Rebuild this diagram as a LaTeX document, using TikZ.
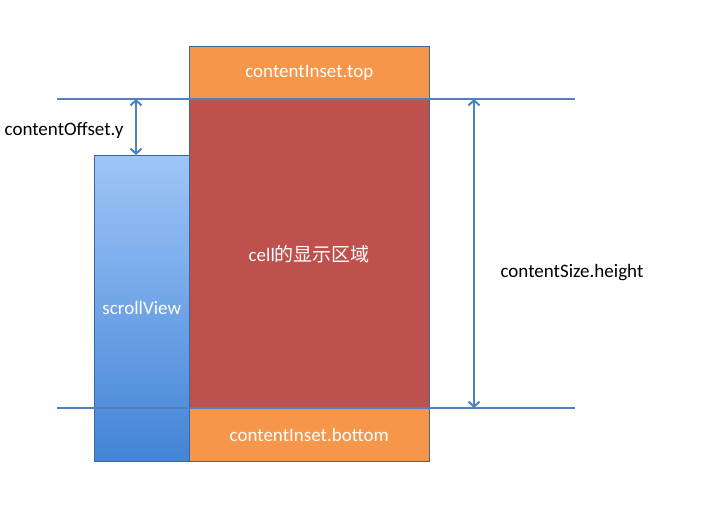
\documentclass[tikz,border=0pt]{standalone}
\usepackage{fontspec}
\setmainfont{Carlito}
\newfontfamily\cjk{Noto Sans CJK SC}
\usetikzlibrary{positioning}
\usetikzlibrary{arrows.meta}
\definecolor{korange}{RGB}{245,150,75}
\definecolor{kred}{RGB}{190,80,77}
\definecolor{kline}{RGB}{79,129,189}
\definecolor{kblueup}{RGB}{158,197,248}
\definecolor{kbluedn}{RGB}{66,132,214}
\tikzset{
  area/.style = {draw=kline!80!black, line width=0.6pt, inner sep=0,
    minimum width=240, text=white, font=\fontsize{19}{22}\selectfont},
  guide/.style = {kline, line width=2pt},
  measure/.style = {kline, line width=2pt,
    {Straight Barb[length=5pt,width=11pt]}-{Straight Barb[length=5pt,width=11pt]}},
  caption/.style = {font=\fontsize{19}{22}\selectfont},
}

\begin{document}
\begin{tikzpicture}[x=1pt, y=-1pt]
    \useasboundingbox (0,0) rectangle (704,518);

    % scroll view behind the content
    \node[draw=kline!80!black, line width=0.6pt, top color=kblueup, bottom color=kbluedn,
      minimum width=95, minimum height=306, inner sep=0, anchor=north west,
      text=white, font=\fontsize{19}{22}\selectfont] (scroll) at (94,155) {scrollView};

    % content areas
    \node[area, fill=korange, minimum height=53, anchor=north west] (insettop) at (189,46) {contentInset.top};
    \node[area, fill=kred, minimum height=309, anchor=north west] (cell) at (189,99) {cell{\cjk 的显示区域}};
    \node[area, fill=korange, minimum height=53, anchor=north west] (insetbot) at (189,408) {contentInset.bottom};

    % guide lines
    \coordinate (topleft) at (57,99);
    \coordinate (topright) at (575,99);
    \coordinate (botleft) at (57,408);
    \coordinate (botright) at (575,408);
    \draw[guide] (topleft) -- (topright);
    \draw[guide] (botleft) -- (botright);

    % offset arrow
    \coordinate (offtop) at (136,99);
    \coordinate (offbot) at (136,155);
    \draw[measure] (offtop) -- (offbot);
    \node[caption] (offset) at (64,130) {contentOffset.y};

    % size arrow
    \coordinate (sizetop) at (474,99);
    \coordinate (sizebot) at (474,408);
    \draw[measure] (sizetop) -- (sizebot);
    \node[caption] (size) at (572,273) {contentSize.height};
\end{tikzpicture}
\end{document}
